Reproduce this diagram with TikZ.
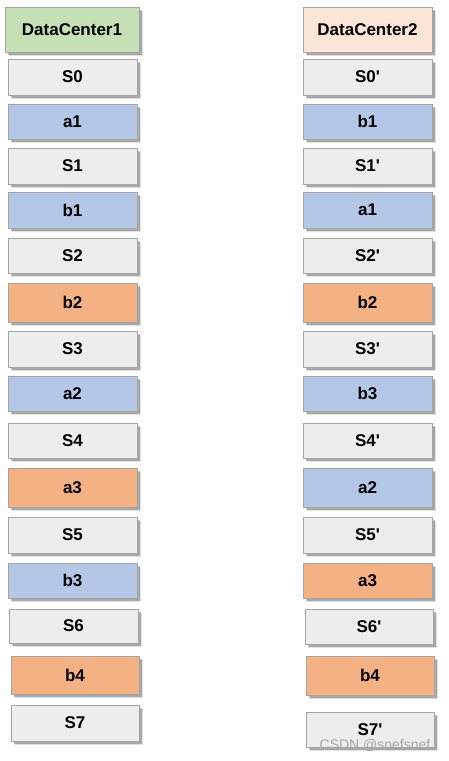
\documentclass[tikz,border=0pt]{standalone}
\usepackage{fontspec}
\setmainfont{Liberation Sans}
\usetikzlibrary{shadows}
\definecolor{gfill}{HTML}{EDEDED}
\definecolor{gline}{HTML}{A5A5A5}
\definecolor{bfill}{HTML}{B4C7E7}
\definecolor{ofill}{HTML}{F4B183}
\definecolor{grfill}{HTML}{C5E0B4}
\definecolor{pfill}{HTML}{FBE5D6}
\tikzset{
  cell/.style={draw=gline, line width=1pt, inner sep=0pt,
    font=\fontsize{17}{20}\selectfont\bfseries,
    drop shadow={shadow xshift=4pt, shadow yshift=-4pt, opacity=.12, fill=black},
    drop shadow={shadow xshift=2.5pt, shadow yshift=-2.5pt, opacity=.25, fill=black}},
  sbox/.style={cell, fill=gfill},
  bbox/.style={cell, fill=bfill},
  obox/.style={cell, fill=ofill},
  hgreen/.style={cell, fill=grfill},
  hpeach/.style={cell, fill=pfill},
  wm/.style={font=\fontsize{14}{16}\selectfont, text=black!35}
}
\newcommand{\pr}{\textquotesingle}
% #1 style, #2 name, #3 x1, #4 x2, #5 y1, #6 y2, #7 text
\newcommand{\cellbox}[7]{%
  \node[#1, minimum width={(#4)-(#3)}, minimum height={(#6)-(#5)}] (#2) at ({((#3)+(#4))/2},{((#5)+(#6))/2}) {#7};}
\begin{document}
\begin{tikzpicture}[x=1pt,y=-1pt]
\useasboundingbox (0,0) rectangle (448,761);
% left column
\cellbox{hgreen}{dc1}{5}{139}{7}{52}{DataCenter1}
\cellbox{sbox}{l0}{8}{137}{59}{95}{S0}
\cellbox{bbox}{la1}{8}{137}{104}{139}{a1}
\cellbox{sbox}{l1}{8}{137}{148}{184}{S1}
\cellbox{bbox}{lb1}{8}{137}{192}{228}{b1}
\cellbox{sbox}{l2}{8}{137}{238}{273}{S2}
\cellbox{obox}{lb2}{8}{137}{283}{322}{b2}
\cellbox{sbox}{l3}{8}{137}{331}{367}{S3}
\cellbox{bbox}{la2}{8}{137}{376}{411}{a2}
\cellbox{sbox}{l4}{8}{137}{423}{458}{S4}
\cellbox{obox}{la3}{8}{137}{468}{507}{a3}
\cellbox{sbox}{l5}{8}{137}{517}{553}{S5}
\cellbox{bbox}{lb3}{8}{137}{563}{598}{b3}
\cellbox{sbox}{l6}{9}{138}{609}{643}{S6}
\cellbox{obox}{lb4}{11}{139}{656}{694}{b4}
\cellbox{sbox}{l7}{11}{139}{705}{741}{S7}
% right column
\cellbox{hpeach}{dc2}{303}{432}{7}{52}{DataCenter2}
\cellbox{sbox}{r0}{303}{432}{59}{95}{S0\pr}
\cellbox{bbox}{rb1}{303}{432}{104}{139}{b1}
\cellbox{sbox}{r1}{303}{432}{148}{184}{S1\pr}
\cellbox{bbox}{ra1}{303}{432}{192}{228}{a1}
\cellbox{sbox}{r2}{303}{432}{238}{273}{S2\pr}
\cellbox{obox}{rb2}{303}{432}{283}{322}{b2}
\cellbox{sbox}{r3}{303}{432}{331}{367}{S3\pr}
\cellbox{bbox}{rb3}{303}{432}{376}{411}{b3}
\cellbox{sbox}{r4}{303}{432}{423}{458}{S4\pr}
\cellbox{bbox}{ra2}{303}{432}{468}{507}{a2}
\cellbox{sbox}{r5}{303}{432}{517}{553}{S5\pr}
\cellbox{obox}{ra3}{303}{432}{563}{598}{a3}
\cellbox{sbox}{r6}{305}{433}{609}{644}{S6\pr}
\cellbox{obox}{rb4}{306}{434}{656}{695}{b4}
\cellbox{sbox}{r7}{306}{434}{712}{747}{S7\pr}
% watermark
\node[wm] (wmark) at (375,745) {CSDN @snefsnef};
\end{tikzpicture}
\end{document}
